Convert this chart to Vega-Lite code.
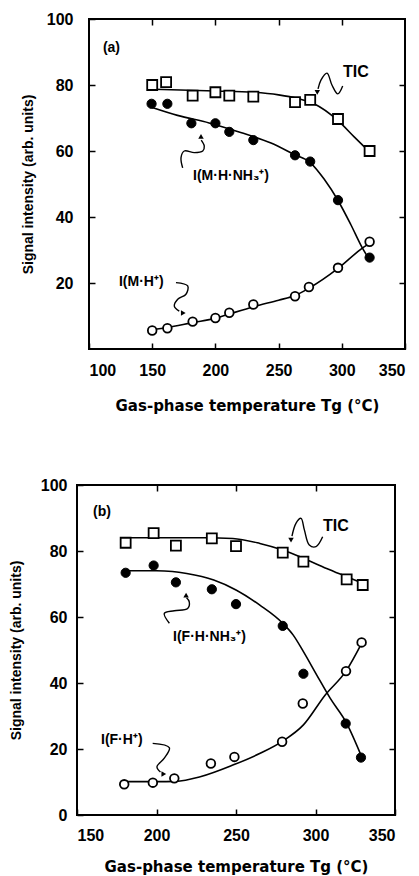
{
  "$schema": "https://vega.github.io/schema/vega-lite/v6.json",
  "padding": {"left": 7, "top": 10, "right": 2, "bottom": 0},
  "config": {
    "font": "Liberation Sans",
    "view": {"stroke": "black", "strokeWidth": 2},
    "axis": {"domain": false, "grid": false, "tickColor": "black", "tickSize": -6, "tickWidth": 1.5,
      "labelFont": "Liberation Sans", "labelFontSize": 16, "labelFontWeight": "bold", "labelColor": "black",
      "titleFont": "Liberation Sans", "titleFontSize": 14, "titleFontWeight": "bold", "titleColor": "black"},
    "axisX": {"titleFont": "DejaVu Sans", "titleFontSize": 15},
    "text": {"font": "Liberation Sans", "fontWeight": "bold", "color": "black"}
  },
  "datasets": {
    "pointsA": [
      {"T":150,"I":80,"s":"TIC"},{"T":161,"I":80.9,"s":"TIC"},{"T":182,"I":76.8,"s":"TIC"},{"T":200,"I":77.8,"s":"TIC"},{"T":211,"I":76.8,"s":"TIC"},{"T":230,"I":76.5,"s":"TIC"},{"T":263,"I":74.8,"s":"TIC"},{"T":275,"I":75.5,"s":"TIC"},{"T":297,"I":69.7,"s":"TIC"},{"T":322,"I":60,"s":"TIC"},
      {"T":149.5,"I":74.3,"s":"NH3"},{"T":162,"I":74.3,"s":"NH3"},{"T":181,"I":68.4,"s":"NH3"},{"T":200,"I":68.4,"s":"NH3"},{"T":211,"I":65.8,"s":"NH3"},{"T":230,"I":63.3,"s":"NH3"},{"T":263,"I":58.7,"s":"NH3"},{"T":275,"I":56.8,"s":"NH3"},{"T":297,"I":45.1,"s":"NH3"},{"T":322,"I":27.7,"s":"NH3"},
      {"T":150,"I":5.6,"s":"H"},{"T":162,"I":6.3,"s":"H"},{"T":182,"I":8.3,"s":"H"},{"T":200,"I":9.4,"s":"H"},{"T":211,"I":11,"s":"H"},{"T":230,"I":13.5,"s":"H"},{"T":263,"I":16,"s":"H"},{"T":274,"I":18.8,"s":"H"},{"T":297,"I":24.6,"s":"H"},{"T":322,"I":32.5,"s":"H"}
    ],
    "curvesA": [
      {"T":150,"I":78.7,"s":"TIC"},{"T":200,"I":78.2,"s":"TIC"},{"T":230,"I":77.8,"s":"TIC"},{"T":250,"I":77,"s":"TIC"},{"T":265,"I":75.9,"s":"TIC"},{"T":278,"I":74.3,"s":"TIC"},{"T":297,"I":69.2,"s":"TIC"},{"T":310,"I":64.2,"s":"TIC"},{"T":322,"I":59.7,"s":"TIC"},
      {"T":150,"I":73.2,"s":"NH3"},{"T":170,"I":70.8,"s":"NH3"},{"T":195,"I":68.5,"s":"NH3"},{"T":220,"I":65.6,"s":"NH3"},{"T":244,"I":62.4,"s":"NH3"},{"T":262,"I":59,"s":"NH3"},{"T":275,"I":56.5,"s":"NH3"},{"T":286,"I":51.5,"s":"NH3"},{"T":297,"I":45,"s":"NH3"},{"T":307,"I":37.8,"s":"NH3"},{"T":316,"I":30.8,"s":"NH3"},{"T":321,"I":27.6,"s":"NH3"},
      {"T":150,"I":5.8,"s":"H"},{"T":162,"I":6.5,"s":"H"},{"T":182,"I":8,"s":"H"},{"T":200,"I":9.3,"s":"H"},{"T":211,"I":10.6,"s":"H"},{"T":231,"I":12.9,"s":"H"},{"T":250,"I":14.8,"s":"H"},{"T":263,"I":16.2,"s":"H"},{"T":274,"I":18.4,"s":"H"},{"T":297,"I":24.4,"s":"H"},{"T":316,"I":30.5,"s":"H"},{"T":323,"I":32.3,"s":"H"}
    ],
    "labelsA": [
      {"T":111,"I":91.2,"text":"(a)","k":"small"},
      {"T":301,"I":83.9,"text":"TIC","k":"big"},
      {"T":182.3,"I":52.4,"text":"I(M·H·NH₃⁺)","k":"small"},
      {"T":123.7,"I":20.3,"text":"I(M·H⁺)","k":"small"}
    ],
    "arrowsA": [
      {"T":300.7,"I":79.7,"a":"tic","o":1},{"T":296.8,"I":77.3,"a":"tic","o":2},{"T":292.2,"I":80,"a":"tic","o":3},{"T":288.3,"I":83.6,"a":"tic","o":4},{"T":283.5,"I":81.5,"a":"tic","o":5},{"T":281.2,"I":78.8,"a":"tic","o":6},
      {"T":174.1,"I":54.9,"a":"nh","o":1},{"T":172.8,"I":58,"a":"nh","o":2},{"T":175.4,"I":60,"a":"nh","o":3},{"T":183.3,"I":59.5,"a":"nh","o":4},{"T":190,"I":60,"a":"nh","o":5},{"T":191.2,"I":61.5,"a":"nh","o":6},{"T":188.8,"I":63.3,"a":"nh","o":7},
      {"T":168.8,"I":20.1,"a":"h","o":1},{"T":178.1,"I":19.1,"a":"h","o":2},{"T":176.7,"I":16.6,"a":"h","o":3},{"T":170.2,"I":15.1,"a":"h","o":4},{"T":167.5,"I":13,"a":"h","o":5},{"T":171.4,"I":11.5,"a":"h","o":6}
    ],
    "headsA": [
      {"T":280.6,"I":77.8,"dir":"down"},
      {"T":188.6,"I":64.4,"dir":"up"},
      {"T":174.6,"I":10.9,"dir":"right"}
    ],
    "pointsB": [
      {"T":180.6,"I":82.5,"s":"TIC"},{"T":198.2,"I":85.4,"s":"TIC"},{"T":212.2,"I":81.6,"s":"TIC"},{"T":234.8,"I":83.8,"s":"TIC"},{"T":250,"I":81.5,"s":"TIC"},{"T":279.4,"I":79.5,"s":"TIC"},{"T":292.4,"I":76.8,"s":"TIC"},{"T":319.6,"I":71.4,"s":"TIC"},{"T":329.7,"I":69.7,"s":"TIC"},
      {"T":180.6,"I":73.4,"s":"NH3"},{"T":198.2,"I":75.6,"s":"NH3"},{"T":212.2,"I":70.5,"s":"NH3"},{"T":234.8,"I":68.4,"s":"NH3"},{"T":250,"I":63.9,"s":"NH3"},{"T":279.4,"I":57.3,"s":"NH3"},{"T":292.4,"I":42.8,"s":"NH3"},{"T":319,"I":27.7,"s":"NH3"},{"T":328.6,"I":17.4,"s":"NH3"},
      {"T":179.7,"I":9.3,"s":"H"},{"T":197.7,"I":9.8,"s":"H"},{"T":211.2,"I":11.1,"s":"H"},{"T":234.2,"I":15.6,"s":"H"},{"T":249,"I":17.6,"s":"H"},{"T":279,"I":22.2,"s":"H"},{"T":292,"I":33.8,"s":"H"},{"T":319.2,"I":43.6,"s":"H"},{"T":329,"I":52.3,"s":"H"}
    ],
    "curvesB": [
      {"T":180.6,"I":84,"s":"TIC"},{"T":200,"I":84,"s":"TIC"},{"T":230,"I":84,"s":"TIC"},{"T":248,"I":83.8,"s":"TIC"},{"T":265,"I":82.3,"s":"TIC"},{"T":279.4,"I":80.3,"s":"TIC"},{"T":292.4,"I":77.8,"s":"TIC"},{"T":307,"I":74.7,"s":"TIC"},{"T":319.6,"I":72.2,"s":"TIC"},{"T":329.7,"I":70.2,"s":"TIC"},
      {"T":180.6,"I":74,"s":"NH3"},{"T":200,"I":74,"s":"NH3"},{"T":210,"I":73.8,"s":"NH3"},{"T":219,"I":73.2,"s":"NH3"},{"T":236,"I":71.2,"s":"NH3"},{"T":250,"I":68.2,"s":"NH3"},{"T":265,"I":63.6,"s":"NH3"},{"T":279.4,"I":58.1,"s":"NH3"},{"T":286,"I":54.5,"s":"NH3"},{"T":292.4,"I":49.5,"s":"NH3"},{"T":300.8,"I":42.4,"s":"NH3"},{"T":309.2,"I":35.4,"s":"NH3"},{"T":319.6,"I":27.8,"s":"NH3"},{"T":329,"I":17.7,"s":"NH3"},
      {"T":180,"I":10.1,"s":"H"},{"T":200,"I":10.1,"s":"H"},{"T":212,"I":10.2,"s":"H"},{"T":227.5,"I":11.6,"s":"H"},{"T":248.4,"I":15.2,"s":"H"},{"T":265.2,"I":18.7,"s":"H"},{"T":279.4,"I":22.4,"s":"H"},{"T":292.4,"I":27.3,"s":"H"},{"T":306,"I":36.3,"s":"H"},{"T":319.6,"I":43.9,"s":"H"},{"T":329,"I":52,"s":"H"}
    ],
    "labelsB": [
      {"T":160.1,"I":91.7,"text":"(b)","k":"small"},
      {"T":304.7,"I":87.6,"text":"TIC","k":"big"},
      {"T":210.4,"I":53.9,"text":"I(F·H·NH₃⁺)","k":"small"},
      {"T":165.1,"I":22.7,"text":"I(F·H⁺)","k":"small"}
    ],
    "arrowsB": [
      {"T":304.5,"I":84.3,"a":"tic","o":1},{"T":300.3,"I":81.3,"a":"tic","o":2},{"T":296.1,"I":81.8,"a":"tic","o":3},{"T":293,"I":86.4,"a":"tic","o":4},{"T":290.9,"I":89.9,"a":"tic","o":5},{"T":287.7,"I":88.4,"a":"tic","o":6},{"T":285.2,"I":84.5,"a":"tic","o":7},
      {"T":208.1,"I":58.1,"a":"nh","o":1},{"T":204.9,"I":61.1,"a":"nh","o":2},{"T":211.2,"I":61.9,"a":"nh","o":3},{"T":219.6,"I":62.6,"a":"nh","o":4},{"T":220.6,"I":64.6,"a":"nh","o":5},{"T":218.9,"I":65.8,"a":"nh","o":6},
      {"T":197.6,"I":21.7,"a":"h","o":1},{"T":208.1,"I":20.4,"a":"h","o":2},{"T":204.9,"I":17.2,"a":"h","o":3},{"T":200.3,"I":14.6,"a":"h","o":4},{"T":202.5,"I":13,"a":"h","o":5}
    ],
    "headsB": [
      {"T":284.6,"I":83.3,"dir":"down"},
      {"T":218.6,"I":66.6,"dir":"up"},
      {"T":204.6,"I":12.4,"dir":"right"}
    ]
  },
  "spacing": 62,
  "vconcat": [
    {
      "spacing": 0,
      "hconcat": [
        {"width": 13, "height": 1, "data": {"values": []}, "mark": "point", "view": {"stroke": null}},
        {
          "width": 316, "height": 330,
          "layer": [
            {
              "data": {"name": "curvesA"},
              "mark": {"type": "line", "interpolate": "monotone", "color": "black", "strokeWidth": 1.6},
              "encoding": {
                "x": {"field": "T", "type": "quantitative", "scale": {"domain": [100, 350], "nice": false, "zero": false},
                  "axis": {"orient": "bottom", "values": [100, 150, 200, 250, 300, 350], "title": "Gas-phase temperature Tg (°C)", "labelPadding": 19, "titlePadding": 20}},
                "y": {"field": "I", "type": "quantitative", "scale": {"domain": [0, 100], "nice": false, "zero": false},
                  "axis": {"orient": "left", "values": [20, 40, 60, 80, 100], "title": "Signal intensity (arb. units)", "labelPadding": 22, "titlePadding": 11}},
                "detail": {"field": "s"}
              }
            },
            {
              "data": {"name": "arrowsA"},
              "mark": {"type": "line", "interpolate": "catmull-rom", "color": "black", "strokeWidth": 1.4},
              "encoding": {
                "x": {"field": "T", "type": "quantitative", "axis": null},
                "y": {"field": "I", "type": "quantitative", "axis": null},
                "detail": {"field": "a"},
                "order": {"field": "o"}
              }
            },
            {
              "data": {"name": "headsA"},
              "mark": {"type": "point", "filled": true, "color": "black", "size": 30, "opacity": 1},
              "encoding": {
                "x": {"field": "T", "type": "quantitative", "axis": null},
                "y": {"field": "I", "type": "quantitative", "axis": null},
                "shape": {"field": "dir", "type": "nominal", "scale": {"domain": ["down", "up", "right"], "range": ["triangle-down", "triangle-up", "triangle-right"]}, "legend": null}
              }
            },
            {
              "data": {"name": "pointsA"},
              "transform": [{"filter": "datum.s === 'TIC'"}],
              "mark": {"type": "point", "shape": "square", "filled": true, "fill": "white", "stroke": "black", "strokeWidth": 1.8, "size": 100, "opacity": 1},
              "encoding": {
                "x": {"field": "T", "type": "quantitative", "axis": null},
                "y": {"field": "I", "type": "quantitative", "axis": null}
              }
            },
            {
              "data": {"name": "pointsA"},
              "transform": [{"filter": "datum.s === 'NH3'"}],
              "mark": {"type": "point", "shape": "circle", "filled": true, "fill": "black", "stroke": "black", "strokeWidth": 1, "size": 85, "opacity": 1},
              "encoding": {
                "x": {"field": "T", "type": "quantitative", "axis": null},
                "y": {"field": "I", "type": "quantitative", "axis": null}
              }
            },
            {
              "data": {"name": "pointsA"},
              "transform": [{"filter": "datum.s === 'H'"}],
              "mark": {"type": "point", "shape": "circle", "filled": true, "fill": "white", "stroke": "black", "strokeWidth": 1.8, "size": 75, "opacity": 1},
              "encoding": {
                "x": {"field": "T", "type": "quantitative", "axis": null},
                "y": {"field": "I", "type": "quantitative", "axis": null}
              }
            },
            {
              "data": {"name": "labelsA"},
              "mark": {"type": "text", "align": "left", "baseline": "middle"},
              "encoding": {
                "x": {"field": "T", "type": "quantitative",
                  "axis": {"orient": "top", "values": [150, 200, 250, 300], "labels": false, "title": null}},
                "y": {"field": "I", "type": "quantitative",
                  "axis": {"orient": "right", "values": [20, 40, 60, 80], "labels": false, "title": null}},
                "text": {"field": "text"},
                "size": {"field": "k", "type": "nominal", "scale": {"domain": ["small", "big"], "range": [14, 16]}, "legend": null}
              }
            }
          ]
        }
      ]
    },
    {
      "spacing": 0,
      "hconcat": [
        {"width": 1, "height": 1, "data": {"values": []}, "mark": "point", "view": {"stroke": null}},
        {
          "width": 318, "height": 330,
          "layer": [
            {
              "data": {"name": "curvesB"},
              "mark": {"type": "line", "interpolate": "monotone", "color": "black", "strokeWidth": 1.6},
              "encoding": {
                "x": {"field": "T", "type": "quantitative", "scale": {"domain": [150, 350], "nice": false, "zero": false},
                  "axis": {"orient": "bottom", "values": [150, 200, 250, 300, 350], "title": "Gas-phase temperature Tg (°C)", "labelPadding": 18, "titlePadding": 16}},
                "y": {"field": "I", "type": "quantitative", "scale": {"domain": [0, 100], "nice": false, "zero": false},
                  "axis": {"orient": "left", "values": [0, 20, 40, 60, 80, 100], "title": "Signal intensity (arb. units)", "labelPadding": 16, "titlePadding": 17}},
                "detail": {"field": "s"}
              }
            },
            {
              "data": {"name": "arrowsB"},
              "mark": {"type": "line", "interpolate": "catmull-rom", "color": "black", "strokeWidth": 1.4},
              "encoding": {
                "x": {"field": "T", "type": "quantitative", "axis": null},
                "y": {"field": "I", "type": "quantitative", "axis": null},
                "detail": {"field": "a"},
                "order": {"field": "o"}
              }
            },
            {
              "data": {"name": "headsB"},
              "mark": {"type": "point", "filled": true, "color": "black", "size": 30, "opacity": 1},
              "encoding": {
                "x": {"field": "T", "type": "quantitative", "axis": null},
                "y": {"field": "I", "type": "quantitative", "axis": null},
                "shape": {"field": "dir", "type": "nominal", "scale": {"domain": ["down", "up", "right"], "range": ["triangle-down", "triangle-up", "triangle-right"]}, "legend": null}
              }
            },
            {
              "data": {"name": "pointsB"},
              "transform": [{"filter": "datum.s === 'TIC'"}],
              "mark": {"type": "point", "shape": "square", "filled": true, "fill": "white", "stroke": "black", "strokeWidth": 1.8, "size": 100, "opacity": 1},
              "encoding": {
                "x": {"field": "T", "type": "quantitative", "axis": null},
                "y": {"field": "I", "type": "quantitative", "axis": null}
              }
            },
            {
              "data": {"name": "pointsB"},
              "transform": [{"filter": "datum.s === 'NH3'"}],
              "mark": {"type": "point", "shape": "circle", "filled": true, "fill": "black", "stroke": "black", "strokeWidth": 1, "size": 85, "opacity": 1},
              "encoding": {
                "x": {"field": "T", "type": "quantitative", "axis": null},
                "y": {"field": "I", "type": "quantitative", "axis": null}
              }
            },
            {
              "data": {"name": "pointsB"},
              "transform": [{"filter": "datum.s === 'H'"}],
              "mark": {"type": "point", "shape": "circle", "filled": true, "fill": "white", "stroke": "black", "strokeWidth": 1.8, "size": 75, "opacity": 1},
              "encoding": {
                "x": {"field": "T", "type": "quantitative", "axis": null},
                "y": {"field": "I", "type": "quantitative", "axis": null}
              }
            },
            {
              "data": {"name": "labelsB"},
              "mark": {"type": "text", "align": "left", "baseline": "middle"},
              "encoding": {
                "x": {"field": "T", "type": "quantitative",
                  "axis": {"orient": "top", "values": [200, 250, 300], "labels": false, "title": null}},
                "y": {"field": "I", "type": "quantitative",
                  "axis": {"orient": "right", "values": [20, 40, 60, 80], "labels": false, "title": null}},
                "text": {"field": "text"},
                "size": {"field": "k", "type": "nominal", "scale": {"domain": ["small", "big"], "range": [14, 16]}, "legend": null}
              }
            }
          ]
        }
      ]
    }
  ]
}
